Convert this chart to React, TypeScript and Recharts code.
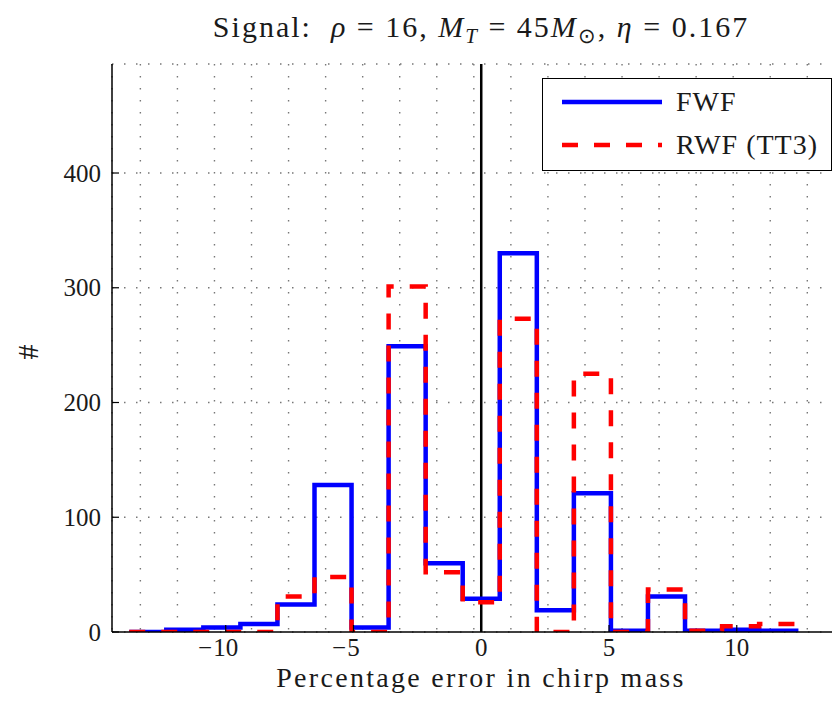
import React from 'react';
import {
  LineChart,
  Line,
  XAxis,
  YAxis,
  CartesianGrid,
  ReferenceLine,
  Legend,
} from 'recharts';

// histogram bin edges (percentage error), counts are per bin starting at that edge
const binEdges = [
  -13.775, -12.325, -10.875, -9.425, -7.975, -6.525, -5.075, -3.625, -2.175, -0.725,
  0.725, 2.175, 3.625, 5.075, 6.525, 7.975, 9.425, 10.875, 12.325,
];
const fwfCounts = [0, 2, 4, 7, 24, 128, 4, 249, 60, 29, 330, 19, 121, 1, 31, 1, 2, 1, 0];
const rwfCounts = [0, 0, 0, 0, 31, 48, 0, 301, 52, 26, 273, 0, 225, 0, 37, 1, 5, 7, 0];

const xTicks = [-10, -5, 0, 5, 10];
const yTicks = [0, 100, 200, 300, 400];
// vertical dotted grid positions
const gridX = [
  -13.34, -11.89, -10.44, -8.99, -7.54, -6.09, -4.64, -3.19, -1.74, -0.29,
  1.16, 2.61, 4.06, 5.51, 6.96, 8.41, 9.86, 11.31, 12.76,
];

// right side of the axes runs off the edge of the figure
const xDomain = [-14.45, 14.04];
const yDomain = [0, 495];

const FONT = 'Liberation Serif';
const INK = '#1a1a1a';

const chartData = binEdges.map((x, i) => ({ x, fwf: fwfCounts[i], rwf: rwfCounts[i] }));

const seriesStyle: Record<string, { dash?: string }> = {
  fwf: {},
  rwf: { dash: '16 16' },
};

const BottomTick = (props: any) => {
  const { x, y, payload } = props;
  const v = payload.value as number;
  const digits = `${Math.abs(v)}`;
  return (
    <g>
      <line x1={x} y1={y} x2={x} y2={y - 7} stroke="#000" strokeWidth={1.2} />
      <text x={x} y={y + 24} textAnchor="middle" fontSize={25} fontFamily={FONT} fill={INK}>
        {digits}
      </text>
      {v < 0 && (
        <text
          x={x - digits.length * 6.3 - 1}
          y={y + 24}
          textAnchor="end"
          fontSize={25}
          fontFamily={FONT}
          fill={INK}
        >
          {'\u2212'}
        </text>
      )}
    </g>
  );
};

const TopTick = (props: any) => {
  const { x, y } = props;
  return <line x1={x} y1={y} x2={x} y2={y + 7} stroke="#000" strokeWidth={1.2} />;
};

const LeftTick = (props: any) => {
  const { x, y, payload } = props;
  return (
    <g>
      <line x1={x} y1={y} x2={x + 7} y2={y} stroke="#000" strokeWidth={1.2} />
      <text
        x={x - 11}
        y={y}
        dy="0.34em"
        textAnchor="end"
        fontSize={25}
        fontFamily={FONT}
        fill={INK}
      >
        {payload.value}
      </text>
    </g>
  );
};

const LegendBox = (props: any) => {
  const { payload = [] } = props;
  return (
    <div
      style={{
        width: 290,
        height: 93,
        border: '1.5px solid #000',
        background: '#fff',
        boxSizing: 'border-box',
        position: 'relative',
        fontFamily: FONT,
      }}
    >
      {payload.map((entry: any, i: number) => {
        const style = seriesStyle[entry.dataKey] || {};
        const cy = 23 + i * 43;
        return (
          <React.Fragment key={entry.value}>
            <svg
              width={130}
              height={20}
              style={{ position: 'absolute', left: 0, top: cy - 10 }}
            >
              <line
                x1={19}
                x2={119}
                y1={10}
                y2={10}
                stroke={entry.color}
                strokeWidth={4.5}
                strokeDasharray={style.dash}
              />
            </svg>
            <span
              style={{
                position: 'absolute',
                left: 133,
                top: cy - 15,
                fontSize: 28,
                letterSpacing: 1,
                lineHeight: '30px',
                color: INK,
                whiteSpace: 'nowrap',
                fontFamily: FONT,
              }}
            >
              {entry.value}
            </span>
          </React.Fragment>
        );
      })}
    </div>
  );
};

const sub: React.CSSProperties = { fontSize: '0.7em', position: 'relative', top: '0.3em' };

export default function App() {
  return (
    <div
      style={{
        position: 'relative',
        width: 824,
        height: 685,
        fontFamily: FONT,
      }}
    >
      <div
        style={{
          position: 'absolute',
          left: 473,
          top: 3,
          transform: 'translateX(-50%)',
          fontSize: 30,
          letterSpacing: 2,
          lineHeight: '32px',
          whiteSpace: 'nowrap',
          color: INK,
          fontFamily: FONT,
        }}
      >
        Signal:&nbsp; <i>ρ</i> = 16,&nbsp;<i>M</i>
        <span style={sub}>
          <i>T</i>
        </span>{' '}
        = 45<i>M</i>
        <span style={sub}>⊙</span>,&nbsp;<i>η</i> = 0.167
      </div>

      <LineChart
        width={832}
        height={685}
        data={chartData}
        margin={{ top: 56, right: 0, bottom: 31, left: 4 }}
      >
        <CartesianGrid
          xAxisId="grid"
          stroke="#777"
          strokeWidth={1.4}
          strokeDasharray="1.5 10.5"
        />
        <XAxis
          dataKey="x"
          type="number"
          domain={xDomain}
          ticks={xTicks}
          allowDataOverflow
          height={30}
          tickSize={0}
          tickMargin={0}
          tickLine={false}
          axisLine={{ stroke: '#000', strokeWidth: 1.5 }}
          tick={<BottomTick />}
          interval={0}
        />
        <XAxis
          xAxisId="top"
          orientation="top"
          dataKey="x"
          type="number"
          domain={xDomain}
          ticks={xTicks}
          allowDataOverflow
          height={0}
          tickSize={0}
          tickMargin={0}
          tickLine={false}
          axisLine={{ stroke: '#000', strokeWidth: 1.5 }}
          tick={<TopTick />}
          interval={0}
        />
        <XAxis
          xAxisId="grid"
          dataKey="x"
          type="number"
          domain={xDomain}
          ticks={gridX}
          allowDataOverflow
          interval={0}
          hide
        />
        <YAxis
          type="number"
          domain={yDomain}
          ticks={yTicks}
          allowDataOverflow
          width={100}
          tickSize={0}
          tickMargin={0}
          tickLine={false}
          axisLine={{ stroke: '#000', strokeWidth: 1.5 }}
          tick={<LeftTick />}
          interval={0}
        />
        <ReferenceLine x={0} stroke="#000" strokeWidth={2.5} />
        <Legend
          layout="vertical"
          align="center"
          verticalAlign="middle"
          content={<LegendBox />}
          wrapperStyle={{ left: 534, top: 70, width: 290, height: 93 }}
        />
        <Line
          type="stepAfter"
          dataKey="fwf"
          name="FWF"
          stroke="#0000ff"
          strokeWidth={4.5}
          dot={false}
          activeDot={false}
          isAnimationActive={false}
        />
        <Line
          type="stepAfter"
          dataKey="rwf"
          name="RWF (TT3)"
          stroke="#ff0000"
          strokeWidth={4.5}
          strokeDasharray="16 16"
          dot={false}
          activeDot={false}
          isAnimationActive={false}
        />
      </LineChart>

      <div
        style={{
          position: 'absolute',
          left: 473,
          top: 655.5,
          transform: 'translateX(-50%)',
          fontSize: 28,
          letterSpacing: 2.3,
          lineHeight: '28px',
          whiteSpace: 'nowrap',
          color: INK,
          fontFamily: FONT,
        }}
      >
        Percentage error in chirp mass
      </div>
      <div
        style={{
          position: 'absolute',
          left: 20,
          top: 344,
          transform: 'translate(-50%, -50%) rotate(-90deg)',
          fontSize: 30,
          lineHeight: '32px',
          color: INK,
          fontFamily: FONT,
        }}
      >
        #
      </div>
    </div>
  );
}
